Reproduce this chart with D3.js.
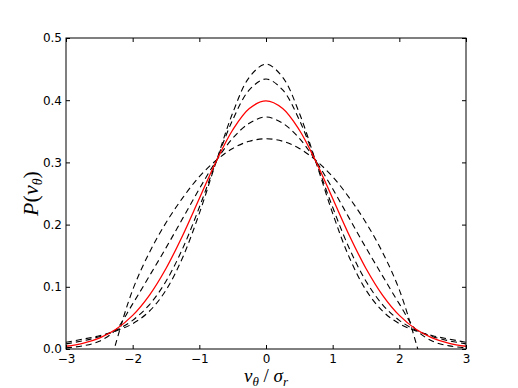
<!DOCTYPE html>
<html><head><meta charset="utf-8">
<script src="https://cdn.jsdelivr.net/npm/d3@7"></script>
<style>body{margin:0;background:#fff}svg{display:block}</style>
</head><body>
<svg id="chart" width="518" height="388"></svg>
<script>
const xValues = [-3,-2.75,-2.5,-2.25,-2,-1.75,-1.5,-1.25,-1,-0.75,-0.5,-0.25,0,0.25,0.5,0.75,1,1.25,1.5,1.75,2,2.25,2.5,2.75,3];
const gaussian = [0.0044,0.0091,0.0175,0.0317,0.0540,0.0863,0.1295,0.1826,0.2420,0.3011,0.3521,0.3867,0.3989,0.3867,0.3521,0.3011,0.2420,0.1826,0.1295,0.0863,0.0540,0.0317,0.0175,0.0091,0.0044];
const dashA = [0.0109,0.0158,0.0214,0.0290,0.0407,0.0607,0.0947,0.1471,0.2181,0.3002,0.3793,0.4369,0.4580,0.4369,0.3793,0.3002,0.2181,0.1471,0.0947,0.0607,0.0407,0.0290,0.0214,0.0158,0.0109];
const dashB = [0.0083,0.0131,0.0198,0.0301,0.0461,0.0711,0.1089,0.1616,0.2278,0.3006,0.3682,0.4165,0.4340,0.4165,0.3682,0.3006,0.2278,0.1616,0.1089,0.0711,0.0461,0.0301,0.0198,0.0131,0.0083];
const dashC = [0.0018,0.0050,0.0125,0.0310,0.0725,0.1172,0.1626,0.2100,0.2575,0.3020,0.3388,0.3630,0.3730,0.3630,0.3388,0.3020,0.2575,0.2100,0.1626,0.1172,0.0725,0.0310,0.0125,0.0050,0.0018];
const dashD = [-0.290,-0.190,-0.090,0.010,0.095,0.155,0.203,0.243,0.277,0.303,0.3225,0.334,0.338,0.334,0.3225,0.303,0.277,0.243,0.203,0.155,0.095,0.010,-0.090,-0.190,-0.290];
const dashedSeries = [dashA, dashB, dashC, dashD];
const xTicks = [-3,-2,-1,0,1,2,3];
const yTicks = [0.0,0.1,0.2,0.3,0.4,0.5];

const svg = d3.select("#chart");
const L = 66, R = 466, T = 38, B = 349;
const x = d3.scaleLinear().domain([-3,3]).range([L,R]);
const y = d3.scaleLinear().domain([0,0.5]).range([B,T]);

svg.append("defs").append("clipPath").attr("id","clip")
  .append("rect").attr("x",L).attr("y",T).attr("width",R-L).attr("height",B-T);

const line = d3.line().x((d,i)=>x(xValues[i])).y(d=>y(d)).curve(d3.curveCatmullRom.alpha(0.5));
const g = svg.append("g").attr("clip-path","url(#clip)");
dashedSeries.forEach(s=>{
  g.append("path").attr("d", line(s)).attr("fill","none").attr("stroke","#000")
    .attr("stroke-width",1.1).attr("stroke-dasharray","6,4");
});
g.append("path").attr("d", line(gaussian)).attr("fill","none").attr("stroke","#ff0000").attr("stroke-width",1.3);

const fmtX = d => d < 0 ? "\u2212" + Math.abs(d) : String(d);
const tickLen = 4;
const axBottom = svg.append("g").attr("transform",`translate(0,${B})`)
  .call(d3.axisBottom(x).tickValues(xTicks).tickFormat(fmtX).tickSize(-tickLen).tickPadding(5));
const axTop = svg.append("g").attr("transform",`translate(0,${T})`)
  .call(d3.axisTop(x).tickValues(xTicks).tickFormat("").tickSize(-tickLen));
const axLeft = svg.append("g").attr("transform",`translate(${L},0)`)
  .call(d3.axisLeft(y).tickValues(yTicks).tickFormat(d3.format(".1f")).tickSize(-tickLen).tickPadding(4));
const axRight = svg.append("g").attr("transform",`translate(${R},0)`)
  .call(d3.axisRight(y).tickValues(yTicks).tickFormat("").tickSize(-tickLen));
[axBottom,axTop,axLeft,axRight].forEach(a=>{
  a.select(".domain").remove();
  a.selectAll("text").attr("font-family","DejaVu Sans").attr("font-size",12).attr("fill","#000");
  a.selectAll("line").attr("stroke","#000");
});
svg.append("rect").attr("x",L).attr("y",T).attr("width",R-L).attr("height",B-T)
  .attr("fill","none").attr("stroke","#000").attr("stroke-width",1);

const serif = "Liberation Serif";
const xl = svg.append("text").attr("x",(L+R)/2).attr("y",382).attr("text-anchor","middle")
  .attr("font-family",serif).attr("font-size",19).attr("fill","#000");
xl.append("tspan").attr("font-style","italic").text("v");
xl.append("tspan").attr("font-style","italic").attr("font-size",13).attr("dy",4).text("θ");
xl.append("tspan").attr("dy",-4).text(" / ");
xl.append("tspan").attr("font-style","italic").text("σ");
xl.append("tspan").attr("font-style","italic").attr("font-size",13).attr("dy",4).text("r");

const yl = svg.append("text").attr("transform",`translate(38,${(T+B)/2}) rotate(-90)`).attr("text-anchor","middle")
  .attr("font-family",serif).attr("font-size",22).attr("fill","#000");
yl.append("tspan").attr("font-style","italic").text("P");
yl.append("tspan").text("(");
yl.append("tspan").attr("font-style","italic").text("v");
yl.append("tspan").attr("font-style","italic").attr("font-size",14).attr("dy",4).text("θ");
yl.append("tspan").attr("dy",-4).text(")");
</script>
</body></html>
